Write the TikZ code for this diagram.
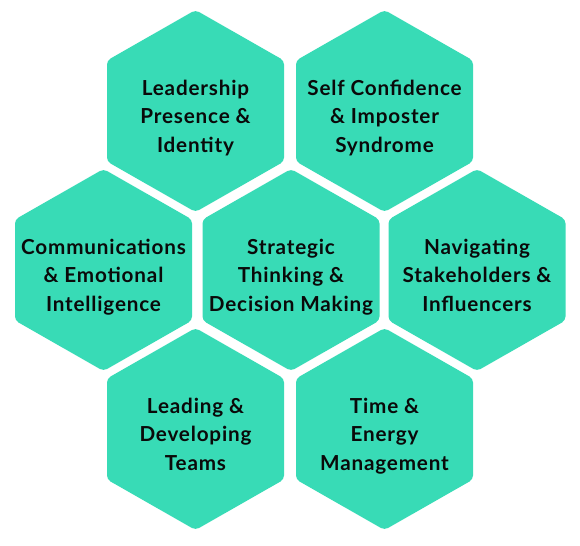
\documentclass[tikz,border=0pt]{standalone}
\usepackage{fontspec}
\setmainfont{Lato}[UprightFont=* Bold, LetterSpace=4]
\definecolor{hexfill}{HTML}{38DBB6}
\definecolor{hextext}{HTML}{0A0A0A}
\tikzset{
  hexa/.pic={\fill[hexfill, rounded corners=3pt] (0,-101) -- (88.5,-50.5) -- (88.5,50.5) -- (0,101) -- (-88.5,50.5) -- (-88.5,-50.5) -- cycle;},
  label/.style={align=center, inner sep=0pt, text=hextext, font=\fontsize{15.5}{21.2}\selectfont}
}
\begin{document}
\begin{tikzpicture}[x=0.75pt,y=-0.75pt]
\useasboundingbox (0,0) rectangle (580,545);
\pic at (195.5,111) {hexa};
\pic at (384.5,111) {hexa};
\pic at (103.5,270) {hexa};
\pic at (291,270) {hexa};
\pic at (477,270) {hexa};
\pic at (195.5,429) {hexa};
\pic at (384.5,429) {hexa};
\node[label] (t1) at (195.5,118.2) {\strut Leadership\\\strut Presence \&\\\strut Identity};
\node[label] (t2) at (384.5,118.2) {\strut Self Confidence\\\strut \& Imposter\\\strut Syndrome};
\node[label] (t3) at (103.5,277.2) {\strut Communications\\\strut \& Emotional\\\strut Intelligence};
\node[label] (t4) at (291,277.2) {\strut Strategic\\\strut Thinking \&\\\strut Decision Making};
\node[label] (t5) at (477,277.2) {\strut Navigating\\\strut Stakeholders \&\\\strut Influencers};
\node[label] (t6) at (195.5,436.2) {\strut Leading \&\\\strut Developing\\\strut Teams};
\node[label] (t7) at (384.5,436.2) {\strut Time \&\\\strut Energy\\\strut Management};
\end{tikzpicture}
\end{document}
